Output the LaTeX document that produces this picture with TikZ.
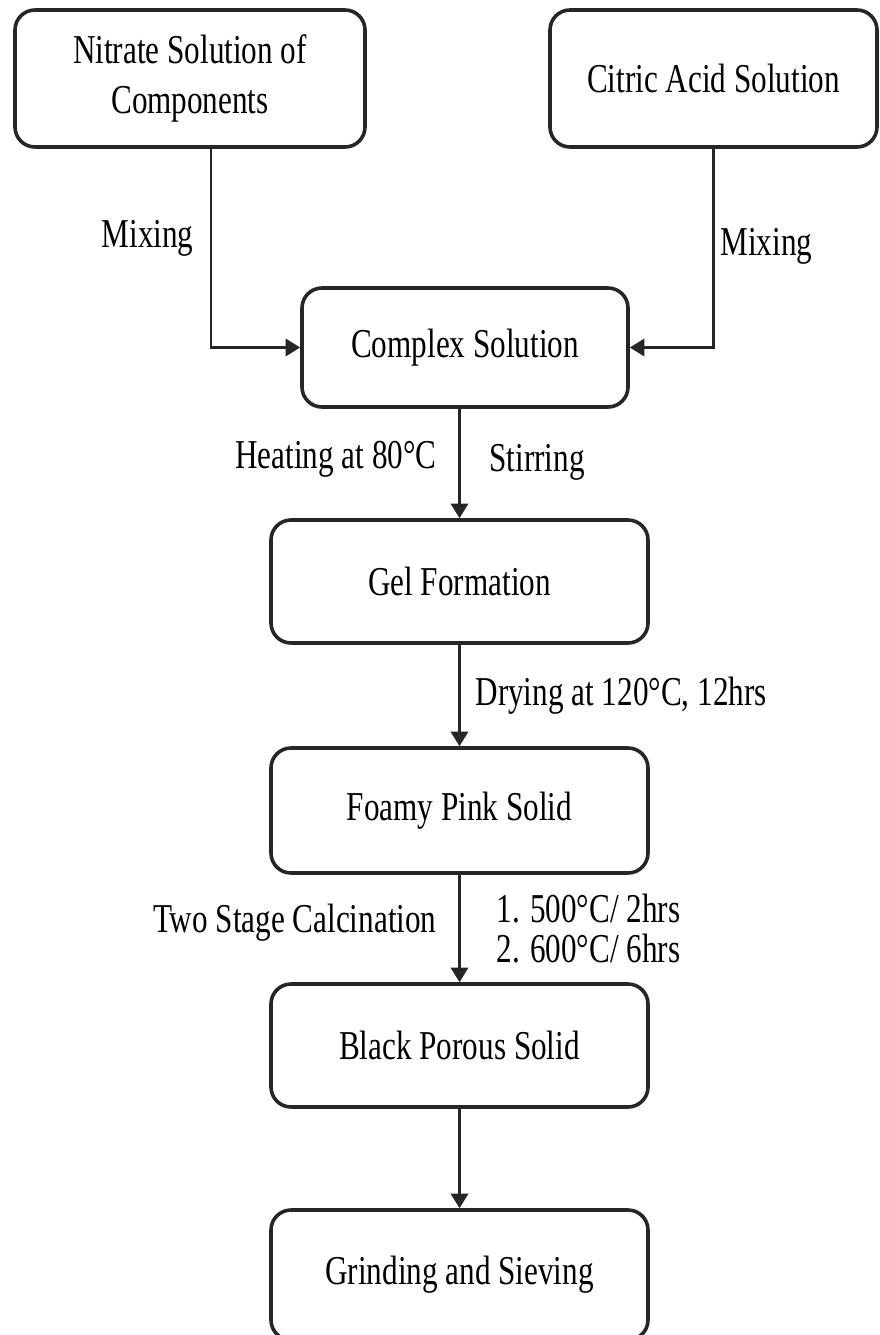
\documentclass[tikz,border=0pt]{standalone}
\usepackage{fontspec}
\newfontfamily\flowfont[FakeStretch=0.76]{Liberation Serif}
\usetikzlibrary{arrows.meta}

\tikzset{every picture/.style={line width=0.75pt}}
\tikzset{
  stagebox/.style={draw=black!85, line width=2.7pt, rounded corners=15pt,
    align=center, inner sep=0pt, text=black,
    font=\flowfont\fontsize{30.75pt}{37.5pt}\selectfont},
  flow/.style={draw=black!85, line width=2.2pt, -{Triangle[width=13pt,length=11pt]}},
  steplabel/.style={inner sep=0pt, text=black,
    font=\flowfont\fontsize{30.75pt}{37.5pt}\selectfont}
}

\begin{document}
\begin{tikzpicture}[x=0.75pt,y=0.75pt,yscale=-1,xscale=1]
	\useasboundingbox (0,0) rectangle (880,1335); %set diagram to 880 x 1335
	
	%Shape: Rounded Rect
	\node [stagebox, minimum width=262.5pt, minimum height=102.75pt] (nitrate) at (190,78.5) {Nitrate Solution of\\Components};
	%Shape: Rounded Rect
	\node [stagebox, minimum width=245.25pt, minimum height=102.75pt] (citric) at (713.5,78.5) {Citric Acid Solution};
	%Shape: Rounded Rect
	\node [stagebox, minimum width=244.5pt, minimum height=89.25pt] (complex) at (465,347.5) {Complex Solution};
	%Shape: Rounded Rect
	\node [stagebox, minimum width=282.75pt, minimum height=92.25pt] (gel) at (459.5,581.5) {Gel Formation};
	%Shape: Rounded Rect
	\node [stagebox, minimum width=282.75pt, minimum height=93.75pt] (foamy) at (459.5,810.5) {Foamy Pink Solid};
	%Shape: Rounded Rect
	\node [stagebox, minimum width=282.75pt, minimum height=92.25pt] (black) at (459.5,1045.5) {Black Porous Solid};
	%Shape: Rounded Rect
	\node [stagebox, minimum width=282.75pt, minimum height=97.5pt] (grinding) at (459.5,1275) {Grinding and Sieving};
	
	\coordinate (mixtap) at (211,200);
	
	%Straight Lines
	\draw [flow] (nitrate.south -| mixtap) |- (complex.west) ;
	%Straight Lines
	\draw [flow] (citric.south) |- (complex.east) ;
	%Straight Lines
	\draw [flow] (complex.south -| gel.north) -- (gel.north) ;
	%Straight Lines
	\draw [flow] (gel.south) -- (foamy.north) ;
	%Straight Lines
	\draw [flow] (foamy.south) -- (black.north) ;
	%Straight Lines
	\draw [flow] (black.south) -- (grinding.north) ;
	
	% Text Node
	\node [steplabel, anchor=base east] (mixleft) at (194,247) {Mixing};
	% Text Node
	\node [steplabel, anchor=base west] (mixright) at (720,255) {Mixing};
	% Text Node
	\node [steplabel, anchor=base east] (heating) at (437,468) {Heating at 80°C};
	% Text Node
	\node [steplabel, anchor=base west] (stirring) at (489,471) {Stirring};
	% Text Node
	\node [steplabel, anchor=base west] (drying) at (475,705) {Drying at 120°C, 12hrs};
	% Text Node
	\node [steplabel, anchor=base east] (calcination) at (437,932) {Two Stage Calcination};
	% Text Node
	\node [steplabel, anchor=base west] (stageone) at (496,922) {1. 500°C/ 2hrs};
	% Text Node
	\node [steplabel, anchor=base west] (stagetwo) at (496,962) {2. 600°C/ 6hrs};
	
\end{tikzpicture}
\end{document}
